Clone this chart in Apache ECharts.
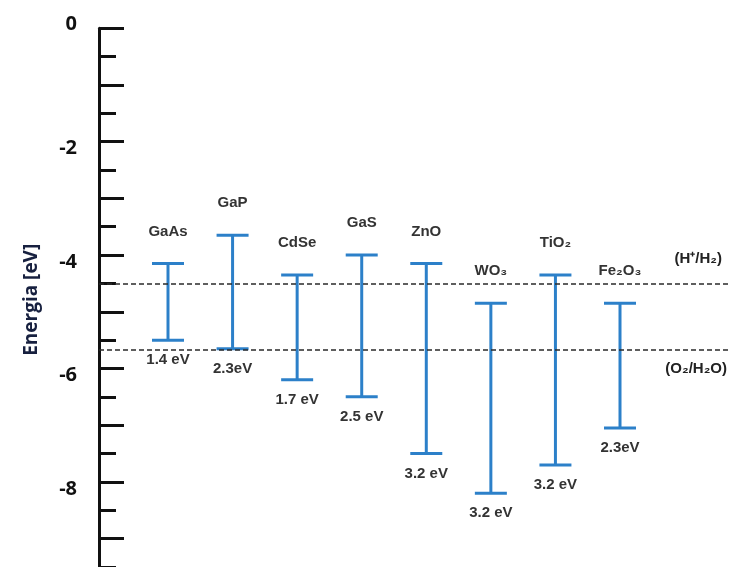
<!DOCTYPE html>
<html>
<head>
<meta charset="utf-8">
<style>html,body{margin:0;padding:0;background:#fff;}#chart{width:729px;height:567px;}</style>
<script src="https://cdn.jsdelivr.net/npm/echarts@6/dist/echarts.min.js"></script>
</head>
<body>
<div id="chart"></div>
<script>
// Data
var materials = ['GaAs', 'GaP', 'CdSe', 'GaS', 'ZnO', 'WO₃', 'TiO₂', 'Fe₂O₃'];
var conductionBand = [-4.15, -3.65, -4.35, -4.0, -4.15, -4.85, -4.35, -4.85];
var valenceBand = [-5.5, -5.65, -6.2, -6.5, -7.5, -8.2, -7.7, -7.05];
var gapLabels = ['1.4 eV', '2.3eV', '1.7 eV', '2.5 eV', '3.2 eV', '3.2 eV', '3.2 eV', '2.3eV'];
var refLevels = [-4.5, -5.67];
var refLabels = ['(H⁺/H₂)', '(O₂/H₂O)'];
var yTickValues = [0, -2, -4, -6, -8];

var chart = echarts.init(document.getElementById('chart'), null, {renderer: 'canvas'});
var blue = '#2c80c9';
var labelFont = 'bold 15px "Liberation Sans", Arial, sans-serif';
var gapFont = 'bold 15px "Liberation Sans", Arial, sans-serif';

var seriesData = materials.map(function (m, i) {
  return [i, conductionBand[i], valenceBand[i]];
});

var option = {
  animation: false,
  backgroundColor: '#ffffff',
  grid: {left: 99, right: 0, top: 28.3, height: 567, containLabel: false, outerBoundsMode: 'none'},
  xAxis: {
    type: 'value', min: -1.0686, max: 8.688,
    show: false
  },
  yAxis: {
    type: 'value', min: -10, max: 0, interval: 1,
    name: 'Energia [eV]',
    nameLocation: 'middle',
    nameGap: 58,
    nameRotate: 90,
    nameTextStyle: {
      color: '#17203f', fontSize: 19, fontWeight: 'bold',
      fontFamily: '"Open Sans", sans-serif',
      padding: [0, 0, 0, 24]
    },
    axisLine: {show: true, onZero: false, lineStyle: {color: '#111', width: 3}},
    axisTick: {show: true, inside: true, length: 25, lineStyle: {color: '#111', width: 3}},
    minorTick: {show: true, splitNumber: 2, length: 17, lineStyle: {color: '#111', width: 3}},
    splitLine: {show: false},
    axisLabel: {
      margin: 22,
      formatter: function (v) {
        if (yTickValues.indexOf(v) < 0) return '';
        return v === 0 ? '{z|' + v + '}' : '{n|' + v + '}';
      },
      rich: {
        n: {fontSize: 20, fontWeight: 'bold', color: '#111', fontFamily: '"Open Sans", sans-serif', padding: [14, 0, 0, 0]},
        z: {fontSize: 20, fontWeight: 'bold', color: '#111', fontFamily: '"Open Sans", sans-serif', padding: [0, 0, 8, 0]}
      }
    }
  },
  series: [{
    type: 'custom',
    data: seriesData,
    encode: {x: 0, y: [1, 2]},
    renderItem: function (params, api) {
      var idx = params.dataIndex;
      var x = api.value(0);
      var pTop = api.coord([x, api.value(1)]);
      var pBot = api.coord([x, api.value(2)]);
      var hw = 16;
      var ls = {stroke: blue, lineWidth: 3};
      return {
        type: 'group',
        children: [
          {type: 'line', shape: {x1: pTop[0], y1: pTop[1], x2: pBot[0], y2: pBot[1]}, style: ls},
          {type: 'line', shape: {x1: pTop[0] - hw, y1: pTop[1], x2: pTop[0] + hw, y2: pTop[1]}, style: ls},
          {type: 'line', shape: {x1: pBot[0] - hw, y1: pBot[1], x2: pBot[0] + hw, y2: pBot[1]}, style: ls},
          {type: 'text', style: {text: materials[idx], x: pTop[0], y: pTop[1] - 32, align: 'center', verticalAlign: 'middle', font: labelFont, fill: '#333'}},
          {type: 'text', style: {text: gapLabels[idx], x: pBot[0], y: pBot[1] + 20, align: 'center', verticalAlign: 'middle', font: gapFont, fill: '#333'}}
        ]
      };
    },
    markLine: {
      silent: true,
      symbol: ['none', 'none'],
      lineStyle: {color: '#2a2a2a', width: 1.5, type: [5, 3]},
      data: [
        {yAxis: refLevels[0], label: {formatter: refLabels[0], position: 'insideEndTop', distance: [7, 17]}},
        {yAxis: refLevels[1], label: {formatter: refLabels[1], position: 'insideEndBottom', distance: [2, 12]}}
      ],
      label: {
        show: true,
        color: '#222',
        fontSize: 15,
        fontWeight: 'bold',
        fontFamily: '"Liberation Sans", Arial, sans-serif'
      }
    }
  }]
};
chart.setOption(option);
</script>
</body>
</html>
